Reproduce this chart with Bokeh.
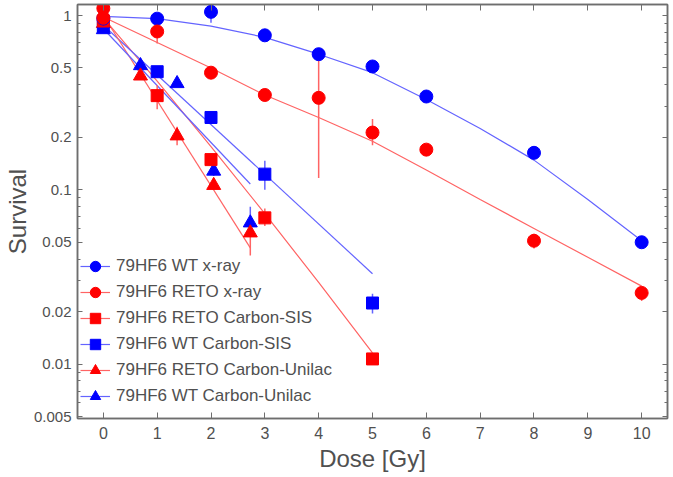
from bokeh.plotting import figure
from bokeh.models import (FixedTicker, LinearAxis, LogAxis, Legend, LegendItem,
                          CustomJSTickFormatter, Range1d)
from bokeh.embed import file_html
from bokeh.resources import INLINE

# ---------------- data ----------------
# 79HF6 WT x-ray (blue circles)
wt_xray_dose = [0, 1, 2, 3, 4, 5, 6, 8, 10]
wt_xray_surv = [0.96, 0.96, 1.05, 0.77, 0.60, 0.51, 0.343, 0.163, 0.050]
wt_xray_lo = [0.93, 0.88, 0.91, 0.72, 0.56, 0.48, 0.32, 0.152, 0.047]
wt_xray_hi = [1.00, 1.00, 1.10, 0.80, 0.63, 0.54, 0.37, 0.175, 0.053]
wt_xray_fit_dose = [0, 1, 2, 3, 4, 5, 6, 7, 8, 9, 10]
wt_xray_fit_surv = [0.99, 0.96, 0.87, 0.75, 0.60, 0.47, 0.33, 0.225, 0.148, 0.088, 0.051]

# 79HF6 RETO x-ray (red circles)
reto_xray_dose = [0, 0, 1, 2, 3, 4, 5, 6, 8, 10]
reto_xray_surv = [1.10, 0.97, 0.81, 0.47, 0.35, 0.337, 0.213, 0.170, 0.051, 0.0256]
reto_xray_lo = [1.08, 0.94, 0.69, 0.45, 0.33, 0.117, 0.180, 0.160, 0.046, 0.023]
reto_xray_hi = [1.12, 1.00, 0.90, 0.50, 0.37, 0.590, 0.255, 0.180, 0.056, 0.028]
reto_xray_fit_dose = [0, 1, 2, 3, 4, 5, 6, 7, 8, 9, 10]
reto_xray_fit_surv = [0.98, 0.70, 0.50, 0.35, 0.26, 0.19, 0.13, 0.088, 0.060, 0.041, 0.028]

# 79HF6 RETO Carbon-SIS (red squares)
reto_sis_dose = [0, 1, 2, 3, 5]
reto_sis_surv = [0.93, 0.347, 0.149, 0.069, 0.0107]
reto_sis_lo = [0.90, 0.29, 0.140, 0.062, 0.0104]
reto_sis_hi = [0.96, 0.40, 0.160, 0.078, 0.0110]
reto_sis_fit_dose = [0, 1, 2, 3, 4, 5]
reto_sis_fit_surv = [0.97, 0.42, 0.177, 0.073, 0.0294, 0.0116]

# 79HF6 WT Carbon-SIS (blue squares)
wt_sis_dose = [0, 1, 2, 3, 5]
wt_sis_surv = [0.87, 0.476, 0.26, 0.123, 0.0224]
wt_sis_lo = [0.84, 0.44, 0.25, 0.100, 0.0195]
wt_sis_hi = [0.90, 0.50, 0.27, 0.147, 0.0253]
wt_sis_fit_dose = [0, 5]
wt_sis_fit_surv = [0.88, 0.033]

# 79HF6 RETO Carbon-Unilac (red triangles)
reto_uni_dose = [0, 0.69, 1.37, 2.05, 2.73]
reto_uni_surv = [0.90, 0.45, 0.204, 0.106, 0.0566]
reto_uni_lo = [0.88, 0.43, 0.180, 0.100, 0.042]
reto_uni_hi = [0.92, 0.47, 0.230, 0.115, 0.062]
reto_uni_fit_dose = [0, 2.73]
reto_uni_fit_surv = [1.00, 0.0464]

# 79HF6 WT Carbon-Unilac (blue triangles)
wt_uni_dose = [0, 0.69, 1.37, 2.05, 2.73]
wt_uni_surv = [0.83, 0.516, 0.407, 0.128, 0.0646]
wt_uni_lo = [0.81, 0.50, 0.39, 0.120, 0.057]
wt_uni_hi = [0.85, 0.53, 0.42, 0.145, 0.080]
wt_uni_fit_dose = [0, 2.73]
wt_uni_fit_surv = [0.84, 0.108]

x_ticks = [0, 1, 2, 3, 4, 5, 6, 7, 8, 9, 10]
y_ticks = [0.005, 0.01, 0.02, 0.05, 0.1, 0.2, 0.5, 1]
y_tick_labels = ["0.005", "0.01", "0.02", "0.05", "0.1", "0.2", "0.5", "1"]

legend_labels = ["79HF6 WT x-ray", "79HF6 RETO x-ray", "79HF6 RETO Carbon-SIS",
                 "79HF6 WT Carbon-SIS", "79HF6 RETO Carbon-Unilac", "79HF6 WT Carbon-Unilac"]

# ---------------- styling ----------------
FONT = "Liberation Sans"
TXT = "#505050"
FRAME = "#6e6e6e"
BLUE, RED = "#0000ff", "#ff0000"
BLUE_L, RED_L = "#6464ff", "#ff6464"

minor = []
for dec in [0.001, 0.01, 0.1, 1.0]:
    for k in range(2, 10):
        v = round(k * dec, 6)
        if 0.0048 < v < 1.16 and v not in y_ticks:
            minor.append(v)

y_ticker = FixedTicker(ticks=y_ticks, minor_ticks=minor)
x_ticker = FixedTicker(ticks=x_ticks, minor_ticks=[])

p = figure(width=672, height=476, y_axis_type="log",
           x_range=Range1d(-0.48, 10.48), y_range=Range1d(0.00487, 1.157),
           output_backend="svg", toolbar_location=None,
           min_border_left=77, min_border_right=5, min_border_top=4, min_border_bottom=58)
p.grid.visible = False
p.outline_line_color = FRAME
p.outline_line_width = 1.5
p.background_fill_color = "white"

def style_axis(ax, tick_in, labels=True):
    ax.axis_line_color = FRAME
    ax.axis_line_width = 1.5
    ax.major_tick_line_color = FRAME
    ax.minor_tick_line_color = FRAME
    ax.major_tick_in = tick_in
    ax.major_tick_out = 0
    ax.minor_tick_in = 3
    ax.minor_tick_out = 0
    ax.major_label_text_font = FONT
    ax.major_label_text_color = TXT
    ax.axis_label_text_font = FONT
    ax.axis_label_text_color = TXT
    ax.axis_label_text_font_style = "normal"
    if not labels:
        ax.formatter = CustomJSTickFormatter(code="return ''")
        ax.major_label_text_font_size = "0px"
        ax.major_label_standoff = 0

xa = p.xaxis[0]
xa.ticker = x_ticker
style_axis(xa, 6)
xa.major_label_text_font_size = "16px"
xa.major_label_standoff = 8
xa.axis_label = "Dose [Gy]"
xa.axis_label_text_font_size = "24px"
xa.axis_label_standoff = 3

ya = p.yaxis[0]
ya.ticker = y_ticker
style_axis(ya, 5)
ya.major_label_overrides = dict(zip(y_ticks, y_tick_labels))
ya.major_label_text_font_size = "15px"
ya.major_label_standoff = 6
ya.axis_label = "Survival"
ya.axis_label_text_font_size = "24px"
ya.axis_label_standoff = 0

top = LinearAxis(ticker=x_ticker)
style_axis(top, 6, labels=False)
p.add_layout(top, "above")
right = LogAxis(ticker=y_ticker)
style_axis(right, 5, labels=False)
p.add_layout(right, "right")

series = [
    (wt_xray_dose, wt_xray_surv, wt_xray_lo, wt_xray_hi, wt_xray_fit_dose, wt_xray_fit_surv, BLUE, BLUE_L, "circle", 13),
    (reto_xray_dose, reto_xray_surv, reto_xray_lo, reto_xray_hi, reto_xray_fit_dose, reto_xray_fit_surv, RED, RED_L, "circle", 13),
    (reto_sis_dose, reto_sis_surv, reto_sis_lo, reto_sis_hi, reto_sis_fit_dose, reto_sis_fit_surv, RED, RED_L, "square", 12),
    (wt_sis_dose, wt_sis_surv, wt_sis_lo, wt_sis_hi, wt_sis_fit_dose, wt_sis_fit_surv, BLUE, BLUE_L, "square", 12),
    (reto_uni_dose, reto_uni_surv, reto_uni_lo, reto_uni_hi, reto_uni_fit_dose, reto_uni_fit_surv, RED, RED_L, "triangle", 14),
    (wt_uni_dose, wt_uni_surv, wt_uni_lo, wt_uni_hi, wt_uni_fit_dose, wt_uni_fit_surv, BLUE, BLUE_L, "triangle", 14),
]

line_rs = []
for (d, s, lo, hi, fd, fs, c, cl, m, sz) in series:
    line_rs.append(p.line(fd, fs, line_color=cl, line_width=1.2))
for (d, s, lo, hi, fd, fs, c, cl, m, sz) in series:
    p.segment(x0=d, y0=lo, x1=d, y1=hi, line_color=cl, line_width=1.5)

draw_order = [5, 4, 3, 2, 0, 1]
mark_rs = {}
for i in draw_order:
    d, s, lo, hi, fd, fs, c, cl, m, sz = series[i]
    mark_rs[i] = p.scatter(d, s, marker=m, size=sz, fill_color=c, line_color=c)

items = [LegendItem(label=legend_labels[i], renderers=[line_rs[i], mark_rs[i]]) for i in range(6)]
legend = Legend(items=items, location=(3, 9), glyph_width=30, glyph_height=26,
                label_height=26, spacing=0, padding=0, margin=0,
                border_line_alpha=0, background_fill_alpha=0,
                label_text_font=FONT, label_text_font_size="17px",
                label_text_color=TXT, label_standoff=6)
p.add_layout(legend)

open("out.html", "w").write(file_html(p, INLINE))
